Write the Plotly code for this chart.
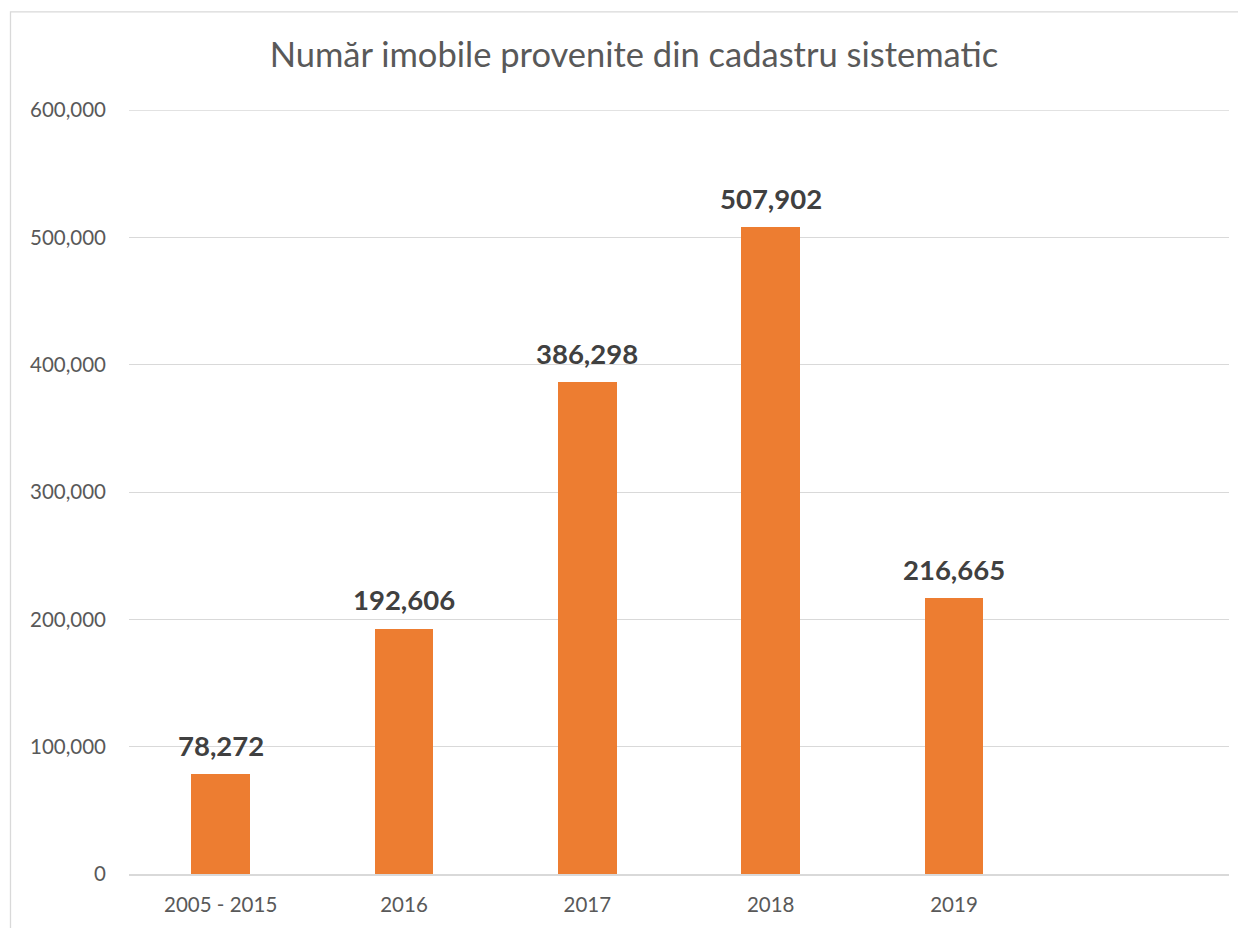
import plotly.graph_objects as go

categories = ["2005 - 2015", "2016", "2017", "2018", "2019"]
values = [78272, 192606, 386298, 507902, 216665]
labels = ["78,272", "192,606", "386,298", "507,902", "216,665"]
title_text = "Număr imobile provenite din cadastru sistematic"
y_ticks = [0, 100000, 200000, 300000, 400000, 500000, 600000]
y_tick_text = ["0", "100,000", "200,000", "300,000", "400,000", "500,000", "600,000"]

FONT = "Lato, Open Sans, sans-serif"

# page body has an 8px margin; figure coords = screen coords - 8
OFF = 8
W, H = 1238, 920
L, R, T, B = 129 - OFF, 17, 110 - OFF, 51
pw, ph = W - L - R, H - T - B

def px2x(px):
    return (px - OFF - L) / pw

def py2y(py):
    return (H - B - (py - OFF)) / ph

fig = go.Figure()
fig.add_trace(go.Bar(
    x=categories, y=values,
    marker=dict(color="#ED7D31", line=dict(width=0)),
    width=0.32,
    hoverinfo="x+y",
))

for i, (v, t) in enumerate(zip(values, labels)):
    fig.add_annotation(x=i, y=v, xref="x", yref="y", text=t, showarrow=False,
                       yanchor="middle", yshift=29,
                       font=dict(family=FONT, size=27.5, color="#404040", weight="bold"))

# top gridline (plotly drops the gridline sitting on the range edge)
fig.add_shape(type="line", xref="paper", yref="y", x0=0, x1=1, y0=y_ticks[-1], y1=y_ticks[-1],
              line=dict(color="#D9D9D9", width=1.3), layer="below")

fig.add_shape(type="rect", xref="paper", yref="paper",
              x0=px2x(10.5), x1=px2x(1270), y0=py2y(960), y1=py2y(11.5),
              line=dict(color="#D9D9D9", width=1.3), fillcolor="rgba(0,0,0,0)", layer="below")

fig.update_layout(
    width=W, height=H,
    margin=dict(l=L, r=R, t=T, b=B),
    paper_bgcolor="white", plot_bgcolor="white",
    showlegend=False,
    bargap=0,
    title=dict(text=title_text, x=(634 - OFF) / W, xanchor="center", y=1 - (55 - OFF) / H, yanchor="middle",
               font=dict(family=FONT, size=34.5, color="#595959")),
    font=dict(family=FONT, color="#595959"),
    xaxis=dict(type="category", range=[-0.5, 5.5], showgrid=False, showline=True,
               linecolor="#D9D9D9", linewidth=2, ticks="", ticklabelstandoff=11,
               tickfont=dict(family=FONT, size=20.5, color="#595959")),
    yaxis=dict(range=[0, 600000], tickvals=y_ticks, ticktext=y_tick_text,
               showgrid=True, gridcolor="#D9D9D9", gridwidth=1.3, zeroline=False,
               showline=False, ticks="", ticklabelstandoff=22,
               tickfont=dict(family=FONT, size=20.5, color="#595959")),
)

fig.write_html("out.html")
